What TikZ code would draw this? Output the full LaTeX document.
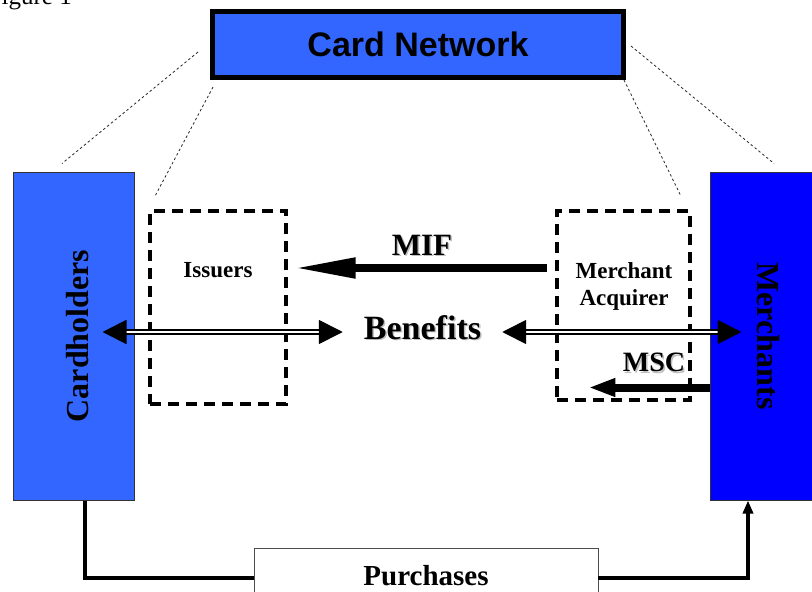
\documentclass[tikz,border=0pt]{standalone}
\usepackage{fontspec}
\setmainfont{Liberation Serif}
\newfontfamily\arialfont{Liberation Sans}
\usetikzlibrary{arrows.meta,calc}
\definecolor{cardblue}{RGB}{51,102,255}
\definecolor{merchblue}{RGB}{0,0,255}
\tikzset{
	sidebox/.style={draw=black!80, line width=1pt, minimum width=121pt, minimum height=328pt},
	dashbox/.style={draw, line width=3.2pt, dash pattern=on 11pt off 7pt, minimum width=#1},
	sidelabel/.style={font=\fontsize{32}{36}\selectfont\bfseries},
	flowlabel/.style={font=\fontsize{23}{27}\selectfont\bfseries, align=center},
	fatarrow/.style={line width=8pt, -{Triangle[length=62pt,width=19pt]}},
	mscarrow/.style={line width=8pt, -{Triangle[length=27pt,width=17pt]}},
	benarrow/.style={line width=1.7pt, double=white, double distance=2.2pt,
		{Triangle[length=24pt,width=24pt]}-{Triangle[length=24pt,width=24pt]}},
	purline/.style={line width=3.5pt},
	dotline/.style={line width=0.8pt, dash pattern=on 2.5pt off 2.5pt, black!85}
}
\newcommand{\shadowed}[1]{\makebox[0pt][l]{\hspace{1.5pt}\raisebox{-1.5pt}{\color{black!25}#1}}#1}
\begin{document}
\begin{tikzpicture}[x=1pt,y=-1pt]
\useasboundingbox (0,0) rectangle (812,592);
\node[font=\fontsize{25}{30}\selectfont, anchor=base east, inner sep=0] (fig) at (72,4) {Figure 1};
% network on top
\node[draw, line width=4pt, fill=cardblue, minimum width=412pt, minimum height=67pt, inner sep=0,
	font=\arialfont\fontsize{34}{37}\selectfont\bfseries] (net) at (418,44.5) {Card Network};
\draw[line width=1pt] ([shift={(4.5,4.5)}]net.north west) rectangle ([shift={(-4.5,-4.5)}]net.south east);
% the two sides
\node[sidebox, fill=cardblue] (card) at (73.5,336) {};
\node[sidebox, fill=merchblue] (merch) at (770.5,336) {};
\node[sidelabel, rotate=90] (cardlbl) at ([xshift=4.5pt]card.center) {Cardholders};
\node[sidelabel, rotate=-90] (merchlbl) at ([xshift=-2.5pt]merch.center) {Merchants};
% banks
\node[dashbox=136pt, minimum height=193pt] (iss) at (218,307.5) {};
\node[dashbox=133pt, minimum height=189pt] (acq) at (623.5,305.5) {};
\node[flowlabel] (isslbl) at (218,270) {Issuers};
\node[flowlabel] (acqlbl) at (624,286) {Merchant\\Acquirer};
% fees and benefits
\node[font=\fontsize{31}{34}\selectfont\bfseries] (mif) at (422,246) {\shadowed{MIF}};
\node[font=\fontsize{34}{38}\selectfont\bfseries, inner xsep=21pt] (ben) at (422.5,328) {\shadowed{Benefits}};
\node[font=\fontsize{28}{32}\selectfont\bfseries] (msc) at (654,363.5) {\shadowed{MSC}};
\draw[fatarrow] ($(acq.west |- 0,268)+(-8,0)$) -- ($(iss.east |- 0,268)+(6,0)$);
\draw[mscarrow] (merch.west |- 0,387.5) -- ($(acq.west |- 0,387.5)+(33,0)$);
\draw[benarrow] ($(card.east |- 0,332)+(-32,0)$) -- (ben.west |- 0,332);
\draw[benarrow] (ben.east |- 0,332) -- ($(merch.west |- 0,332)+(32,0)$);
% purchases
\node[draw=black!70, line width=0.8pt, fill=white, minimum width=344pt, minimum height=60pt,
	font=\fontsize{29}{32}\selectfont\bfseries] (pur) at (426,578) {\raisebox{5pt}{Purchases}};
\draw[purline] ([xshift=11.5pt]card.south) |- (pur.west);
\draw[purline, -{Triangle[length=13pt,width=10pt]}] (pur.east) -| ([xshift=-22.5pt]merch.south);
% dotted links to the network
\draw[dotline] ([shift={(-12,7.5)}]net.west) -- ([shift={(-11.5,-8)}]card.north);
\draw[dotline] ([shift={(3,7)}]net.south west) -- ([shift={(7,-14)}]iss.north west);
\draw[dotline] ([shift={(5,1.5)}]net.east) -- ([shift={(3.5,-8)}]merch.north);
\draw[dotline] ([shift={(-2,0)}]net.south east) -- ([shift={(-11,-14)}]acq.north east);
\end{tikzpicture}
\end{document}
